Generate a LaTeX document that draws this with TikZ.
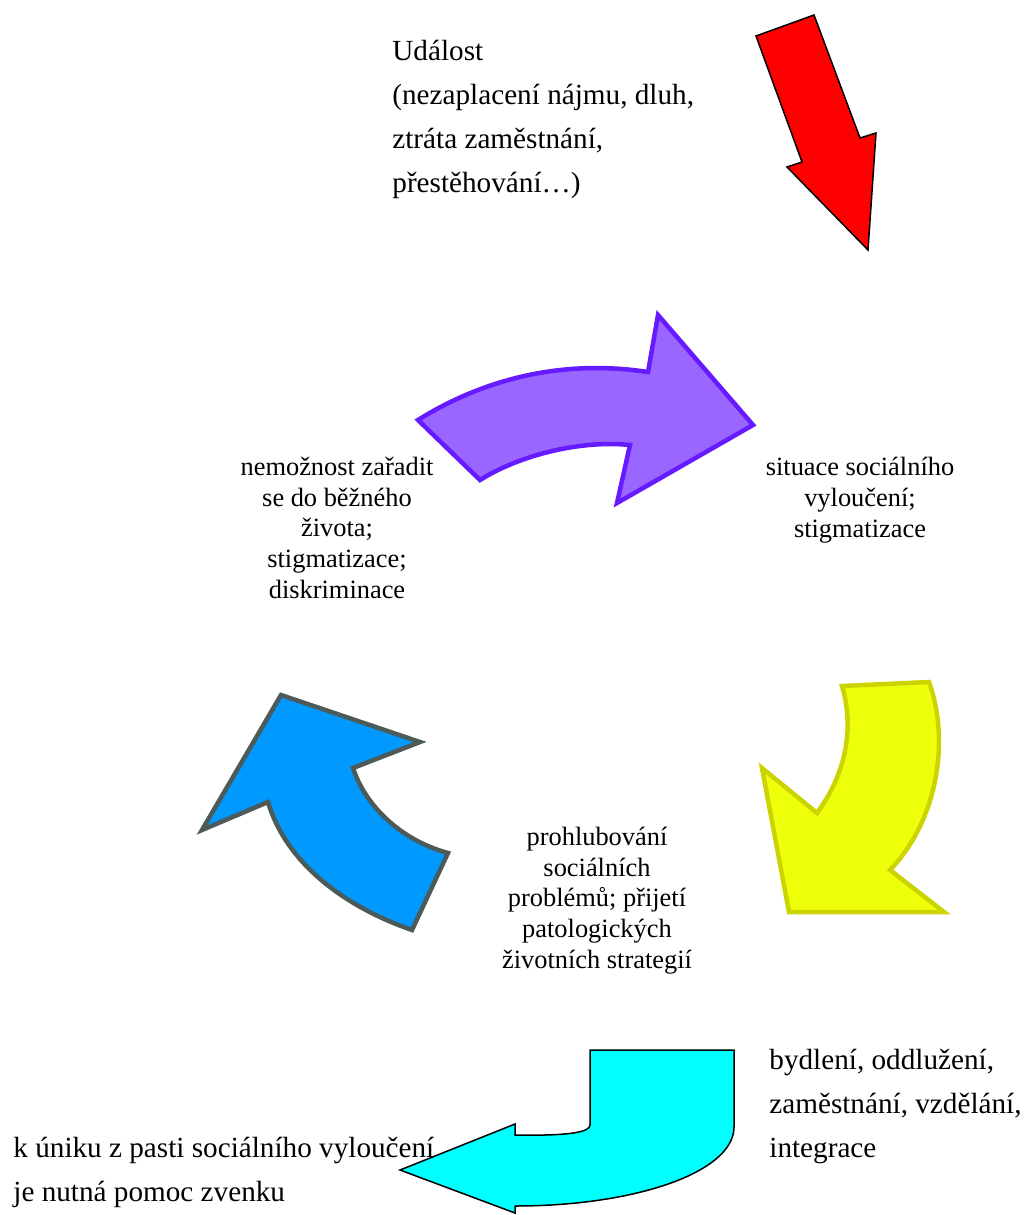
\documentclass[tikz,border=0pt]{standalone}
\usepackage{fontspec}
\setmainfont{Liberation Serif}
\usepackage{tikz}
\definecolor{arrowred}{rgb}{1, 0, 0}
\definecolor{violetfill}{RGB}{153, 102, 255}
\definecolor{violetline}{RGB}{102, 26, 255}
\definecolor{yellowfill}{RGB}{238, 255, 10}
\definecolor{yellowline}{RGB}{204, 212, 0}
\definecolor{bluefill}{RGB}{0, 153, 255}
\definecolor{blueline}{RGB}{77, 90, 90}
\definecolor{cyanfill}{RGB}{0, 255, 255}

\begin{document}
\begin{tikzpicture}[x=0.5pt, y=-0.5pt,
		thickarrow/.style={line width=2.25pt, line join=miter},
		thinarrow/.style={line width=0.75pt, line join=miter, draw=black},
		bigtext/.style={font=\fontsize{14.6}{22}\selectfont, align=left, inner sep=0pt, anchor=base west},
		smalltext/.style={font=\fontsize{13.2}{15.3}\selectfont, align=center, inner sep=0pt, anchor=base}]
			\useasboundingbox (0,0) rectangle (1023,1215);
			% incoming event
			\filldraw [thinarrow, fill=arrowred] (756,36) -- (814,15) -- (860,138) -- (876,133) -- (868,250) -- (787,167) -- (802,162) -- cycle;
			% the cycle
			\filldraw [thickarrow, fill=violetfill, draw=violetline] (418,420) .. controls (490,375) and (570,360) .. (648,372) -- (658,315) -- (753,425) -- (617,503) -- (630,445) .. controls (580,440) and (520,455) .. (480,480) -- cycle;
			\filldraw [thickarrow, fill=yellowfill, draw=yellowline] (842,686) -- (929,682) .. controls (950,740) and (938,820) .. (890,870) -- (944,912) -- (789,912) -- (762,768) -- (817,813) .. controls (845,775) and (855,730) .. (842,686) -- cycle;
			\filldraw [thickarrow, fill=bluefill, draw=blueline] (281,695) -- (420,742) -- (353,768) .. controls (365,805) and (400,840) .. (448,853) -- (412,930) .. controls (340,905) and (285,860) .. (268,802) -- (202,830) -- cycle;
			% way out
			\filldraw [thinarrow, fill=cyanfill] (590,1050) -- (734,1050) -- (734,1127) .. controls (734,1172) and (636,1206) .. (515,1206) -- (515,1213) -- (400,1170) -- (515,1124) -- (515,1135) .. controls (570,1136) and (590,1132) .. (590,1125) -- cycle;
			% base of a text block = baseline of its last line
			\node [bigtext] (event) at (392,192) {Událost\\(nezaplacení nájmu, dluh,\\ztráta zaměstnání,\\přestěhování…)};
			\node [smalltext] (exclusion) at (860,537) {situace sociálního\\vyloučení;\\stigmatizace};
			\node [smalltext] (deepening) at (597,968) {prohlubování\\sociálních\\problémů; přijetí\\patologických\\životních strategií};
			\node [smalltext] (noreturn) at (337,598) {nemožnost zařadit\\se do běžného\\života;\\stigmatizace;\\diskriminace};
			\node [bigtext] (help) at (769,1157) {bydlení, oddlužení,\\zaměstnání, vzdělání,\\integrace};
			\node [bigtext] (escape) at (13,1201) {k úniku z pasti sociálního vyloučení\\je nutná pomoc zvenku};
		\end{tikzpicture}
\end{document}
